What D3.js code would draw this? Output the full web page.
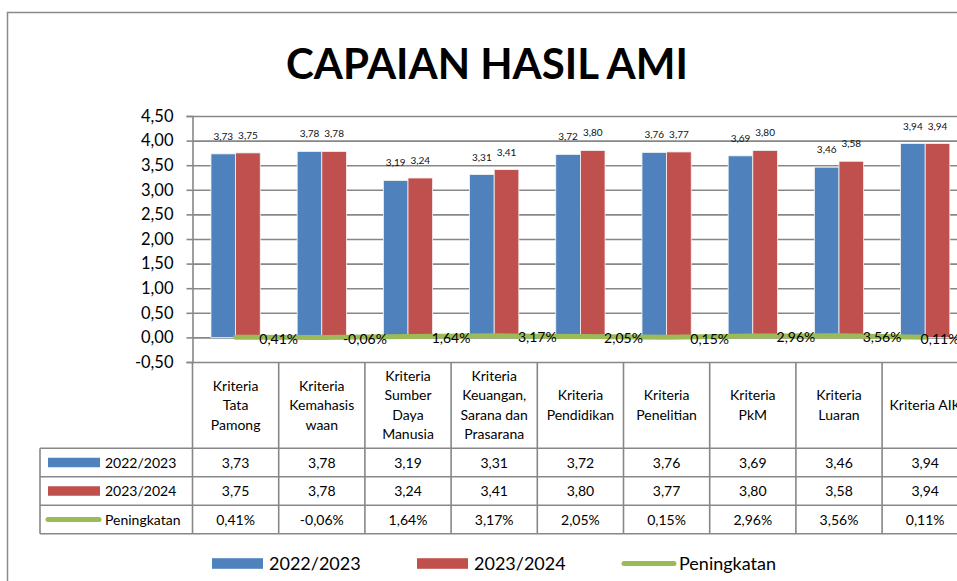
<!DOCTYPE html>
<html>
<head>
<meta charset="utf-8">
<script src="https://cdn.jsdelivr.net/npm/d3@7.9.0/dist/d3.min.js"></script>
<style>
  body { margin: 0; background: #fff; }
  svg { display: block; font-family: Lato, "Open Sans", sans-serif; }
</style>
</head>
<body>
<svg id="chart" width="957" height="581"></svg>
<script>
// ─────────── DATA ───────────
const categories = [
  ["Kriteria", "Tata", "Pamong"],
  ["Kriteria", "Kemahasis", "waan"],
  ["Kriteria", "Sumber", "Daya", "Manusia"],
  ["Kriteria", "Keuangan,", "Sarana dan", "Prasarana"],
  ["Kriteria", "Pendidikan"],
  ["Kriteria", "Penelitian"],
  ["Kriteria", "PkM"],
  ["Kriteria", "Luaran"],
  ["Kriteria AIK"]
];
const seriesNames = ["2022/2023", "2023/2024", "Peningkatan"];
const values2022 = [3.73, 3.78, 3.19, 3.31, 3.72, 3.76, 3.69, 3.46, 3.94];
const values2023 = [3.75, 3.78, 3.24, 3.41, 3.80, 3.77, 3.80, 3.58, 3.94];
const peningkatan = [0.41, -0.06, 1.64, 3.17, 2.05, 0.15, 2.96, 3.56, 0.11]; // in %
const yTicks = [-0.5, 0, 0.5, 1, 1.5, 2, 2.5, 3, 3.5, 4, 4.5];

const colors = ["#4F81BD", "#C0504D", "#9BBB59"];
const gridColor = "#878787";
const fmt = (v) => v.toFixed(2).replace(".", ",");
const fmtPct = (v) => v.toFixed(2).replace(".", ",") + "%";

// ─────────── LAYOUT ───────────
const svg = d3.select("#chart");
const plotLeft = 192.5, plotRight = 968.3;
const plotTop = 116, plotBottom = 362;
const rowH = 28.5;
const headerBottom = 448.3;
const legendColLeft = 40;

// chart frame (extends past the window like the screenshot)
svg.append("rect")
  .attr("x", 7.5).attr("y", 12.5)
  .attr("width", 1000).attr("height", 700)
  .attr("fill", "#fff")
  .attr("stroke", "#8a8a8a").attr("stroke-width", 1.5);

// title
svg.append("text")
  .attr("x", 487).attr("y", 78.5)
  .attr("text-anchor", "middle")
  .attr("font-weight", 700)
  .attr("font-size", 42)
  .attr("fill", "#000")
  .text("CAPAIAN HASIL AMI");

// ─────────── SCALES ───────────
const x = d3.scaleBand()
  .domain(d3.range(categories.length))
  .range([plotLeft, plotRight]);
const xInner = d3.scaleBand()
  .domain([0, 1])
  .range([0, x.bandwidth()])
  .paddingInner(0)
  .paddingOuter(0.75);
const y = d3.scaleLinear().domain([-0.5, 4.5]).range([plotBottom, plotTop]);

// ─────────── GRID + AXIS ───────────
const grid = svg.append("g")
  .attr("transform", `translate(${plotLeft},0)`)
  .call(d3.axisLeft(y).tickValues(yTicks).tickSize(-(plotRight - plotLeft)).tickFormat(""));
grid.select(".domain").remove();
grid.selectAll("line").attr("stroke", gridColor).attr("stroke-width", 1.6);

const yAxis = svg.append("g")
  .attr("transform", `translate(${plotLeft},0)`)
  .call(d3.axisLeft(y).tickValues(yTicks).tickSize(6).tickPadding(13).tickFormat(fmt));
yAxis.select(".domain").attr("stroke", gridColor).attr("stroke-width", 1.6);
yAxis.selectAll("line").attr("stroke", gridColor).attr("stroke-width", 1.6);
yAxis.selectAll("text")
  .attr("font-size", 16.5)
  .attr("font-family", "Lato, sans-serif")
  .attr("fill", "#000");

// ─────────── BARS ───────────
const barSeries = [values2022, values2023];
barSeries.forEach((vals, s) => {
  const g = svg.append("g");
  g.selectAll("rect")
    .data(vals)
    .join("rect")
    .attr("x", (d, i) => x(i) + xInner(s))
    .attr("y", (d) => y(d))
    .attr("width", xInner.bandwidth())
    .attr("height", (d) => y(0) - y(d))
    .attr("fill", colors[s])
    .attr("stroke", "#f4f4f4")
    .attr("stroke-width", 0.8);

  g.selectAll("text")
    .data(vals)
    .join("text")
    .attr("x", (d, i) => x(i) + xInner(s) + xInner.bandwidth() / 2)
    .attr("y", (d) => y(d) - 14)
    .attr("text-anchor", "middle")
    .attr("font-size", 10)
    .attr("fill", "#111")
    .text((d) => fmt(d));
});

// ─────────── LINE (Peningkatan) ───────────
const cx = (i) => x(i) + x.bandwidth() / 2;
const line = d3.line()
  .x((d, i) => cx(i))
  .y((d) => y(d / 100));

svg.append("path")
  .datum(peningkatan)
  .attr("d", line)
  .attr("fill", "none")
  .attr("stroke", colors[2])
  .attr("stroke-width", 5)
  .attr("stroke-linecap", "round");

svg.append("g").selectAll("text")
  .data(peningkatan)
  .join("text")
  .attr("x", (d, i) => Math.min(cx(i) + x.bandwidth() / 2, 940))
  .attr("y", (d) => y(d / 100) + 6.5)
  .attr("text-anchor", "middle")
  .attr("font-size", 14)
  .attr("fill", "#000")
  .text((d) => fmtPct(d));

// ─────────── DATA TABLE ───────────
const table = svg.append("g");
const tableBottom = headerBottom + rowH * 3;
const lineStyle = (sel) => sel.attr("stroke", gridColor).attr("stroke-width", 1.6);

// vertical lines at each column boundary
const bounds = d3.range(categories.length + 1).map((i) =>
  i < categories.length ? x(i) : x(categories.length - 1) + x.bandwidth());
table.selectAll("line.v")
  .data(bounds)
  .join("line")
  .attr("class", "v")
  .attr("x1", (d) => d).attr("x2", (d) => d)
  .attr("y1", plotBottom).attr("y2", tableBottom)
  .call(lineStyle);

// legend column left edge
table.append("line")
  .attr("x1", legendColLeft).attr("x2", legendColLeft)
  .attr("y1", headerBottom).attr("y2", tableBottom)
  .call(lineStyle);

// horizontal lines
table.selectAll("line.h")
  .data(d3.range(4))
  .join("line")
  .attr("class", "h")
  .attr("x1", legendColLeft).attr("x2", plotRight)
  .attr("y1", (d) => headerBottom + d * rowH)
  .attr("y2", (d) => headerBottom + d * rowH)
  .call(lineStyle);

// header texts
const headerMid = (plotBottom + headerBottom) / 2;
const lh = 19.5;
categories.forEach((lines, i) => {
  const t = table.append("text")
    .attr("text-anchor", "middle")
    .attr("font-size", 14)
    .attr("fill", "#000");
  lines.forEach((ln, k) => {
    t.append("tspan")
      .attr("x", cx(i))
      .attr("y", headerMid + (k - (lines.length - 1) / 2) * lh + 5)
      .text(ln);
  });
});

// table rows
const rows = [
  values2022.map(fmt),
  values2023.map(fmt),
  peningkatan.map(fmtPct)
];
rows.forEach((cells, r) => {
  const rowMid = headerBottom + r * rowH + rowH / 2;
  table.append("g").selectAll("text")
    .data(cells)
    .join("text")
    .attr("x", (d, i) => cx(i))
    .attr("y", rowMid + 5)
    .attr("text-anchor", "middle")
    .attr("font-size", 14)
    .attr("fill", "#000")
    .text((d) => d);

  // legend key inside table
  if (r < 2) {
    table.append("rect")
      .attr("x", 48).attr("y", rowMid - 4.8)
      .attr("width", 52).attr("height", 9.5)
      .attr("fill", colors[r]);
  } else {
    table.append("line")
      .attr("x1", 48).attr("x2", 99)
      .attr("y1", rowMid).attr("y2", rowMid)
      .attr("stroke", colors[2]).attr("stroke-width", 5)
      .attr("stroke-linecap", "round");
  }
  table.append("text")
    .attr("x", 105).attr("y", rowMid + 5)
    .attr("font-size", 14)
    .attr("fill", "#000")
    .text(seriesNames[r]);
});

// ─────────── BOTTOM LEGEND ───────────
const legendX = [212, 417, 622];
const legendY = 563.5;
const legend = svg.append("g");
seriesNames.forEach((name, s) => {
  if (s < 2) {
    legend.append("rect")
      .attr("x", legendX[s]).attr("y", legendY - 5.3)
      .attr("width", 51).attr("height", 10.6)
      .attr("fill", colors[s]);
  } else {
    legend.append("line")
      .attr("x1", legendX[s] + 2).attr("x2", legendX[s] + 52)
      .attr("y1", legendY).attr("y2", legendY)
      .attr("stroke", colors[2]).attr("stroke-width", 5)
      .attr("stroke-linecap", "round");
  }
  legend.append("text")
    .attr("x", legendX[s] + 57).attr("y", legendY + 6.5)
    .attr("font-size", 18)
    .attr("fill", "#000")
    .text(name);
});
</script>
</body>
</html>
